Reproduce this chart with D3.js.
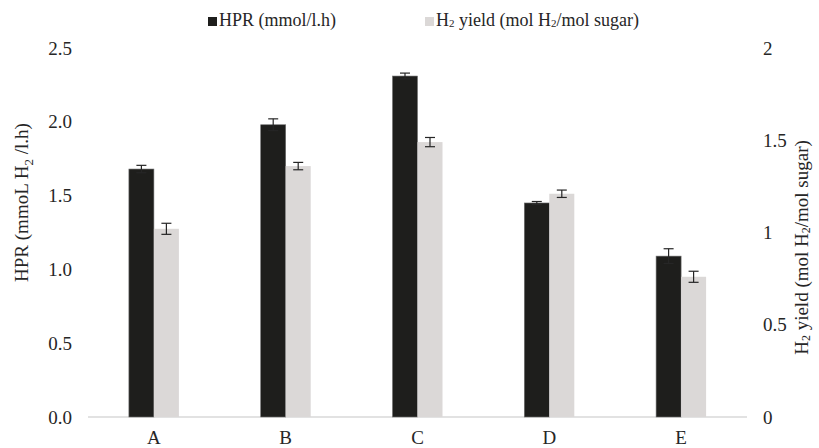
<!DOCTYPE html>
<html>
<head>
<meta charset="utf-8">
<script src="https://cdn.jsdelivr.net/npm/d3@7"></script>
<style>
  body { margin: 0; background: #fff; }
  svg text { font-family: "Liberation Serif", "Times New Roman", Times, "DejaVu Serif", serif !important; fill: #262626; }
</style>
</head>
<body>
<div id="chart"></div>
<script>
const categories = ["A", "B", "C", "D", "E"];
const hpr = [1.68, 1.98, 2.31, 1.45, 1.09];
const hprErr = [0.025, 0.04, 0.02, 0.01, 0.05];
const yieldH2 = [1.02, 1.36, 1.49, 1.21, 0.76];
const yieldErr = [0.03, 0.02, 0.025, 0.02, 0.03];
const leftTicks = [0, 0.5, 1.0, 1.5, 2.0, 2.5];
const rightTicks = [0, 0.5, 1, 1.5, 2];

const width = 819;
const height = 448;
const margin = { top: 48, right: 72, bottom: 31, left: 88 };

const svg = d3.select("#chart")
    .append("svg")
    .attr("width", width)
    .attr("height", height);

const x = d3.scaleBand()
    .domain(categories)
    .range([margin.left, width - margin.right]);

const inner = d3.scaleBand()
    .domain(["hpr", "yield"])
    .range([x.bandwidth() / 2 - 25, x.bandwidth() / 2 + 25]);

const yL = d3.scaleLinear().domain([0, 2.5]).range([height - margin.bottom, margin.top]);
const yR = d3.scaleLinear().domain([0, 2]).range([height - margin.bottom, margin.top]);

// axes
const leftAxis = svg.append("g")
    .attr("transform", `translate(${margin.left},0)`)
    .call(d3.axisLeft(yL).tickValues(leftTicks).tickFormat(d3.format(".1f")).tickSize(0).tickPadding(16));
const rightAxis = svg.append("g")
    .attr("transform", `translate(${width - margin.right},0)`)
    .call(d3.axisRight(yR).tickValues(rightTicks).tickFormat(d => d3.format("~g")(d)).tickSize(0).tickPadding(16));
const bottomAxis = svg.append("g")
    .attr("transform", `translate(0,${height - margin.bottom})`)
    .call(d3.axisBottom(x).tickSize(0).tickPadding(14));

[leftAxis, rightAxis, bottomAxis].forEach(g => {
    g.attr("font-family", null);
    g.select(".domain").remove();
    g.selectAll("text").style("font-size", "19px").attr("fill", "#262626");
});

svg.append("line")
    .attr("x1", margin.left).attr("x2", width - margin.right)
    .attr("y1", yL(0)).attr("y2", yL(0))
    .attr("stroke", "#d9d9d9").attr("stroke-width", 1.5);

// bars
const groups = svg.selectAll("g.cat")
    .data(categories)
    .enter()
    .append("g")
    .attr("class", "cat")
    .attr("transform", d => `translate(${x(d)},0)`);

groups.append("rect")
    .attr("x", inner("hpr"))
    .attr("width", inner.bandwidth())
    .attr("y", (d, i) => yL(hpr[i]))
    .attr("height", (d, i) => yL(0) - yL(hpr[i]))
    .attr("fill", "#1e1e1c")
    .attr("stroke", "#6e6e6e")
    .attr("stroke-width", 0.6);

groups.append("rect")
    .attr("x", inner("yield"))
    .attr("width", inner.bandwidth())
    .attr("y", (d, i) => yR(yieldH2[i]))
    .attr("height", (d, i) => yR(0) - yR(yieldH2[i]))
    .attr("fill", "#dbd8d7");

// error bars
const drawErr = (cx, yTop, yBot) => {
    const g = svg.append("g").attr("stroke", "#262626").attr("stroke-width", 1.2);
    g.append("line").attr("x1", cx).attr("x2", cx).attr("y1", yTop).attr("y2", yBot);
    g.append("line").attr("x1", cx - 5).attr("x2", cx + 5).attr("y1", yTop).attr("y2", yTop);
    g.append("line").attr("x1", cx - 5).attr("x2", cx + 5).attr("y1", yBot).attr("y2", yBot);
};
categories.forEach((c, i) => {
    const cx1 = x(c) + inner("hpr") + inner.bandwidth() / 2;
    drawErr(cx1, yL(hpr[i] + hprErr[i]), yL(hpr[i] - hprErr[i]));
    const cx2 = x(c) + inner("yield") + inner.bandwidth() / 2;
    drawErr(cx2, yR(yieldH2[i] + yieldErr[i]), yR(yieldH2[i] - yieldErr[i]));
});

// axis titles
const lt = svg.append("text")
    .attr("transform", `translate(28,${(margin.top + height - margin.bottom) / 2 - 30}) rotate(-90)`)
    .attr("text-anchor", "middle")
    .style("font-size", "19px");
lt.append("tspan").text("HPR (mmoL H");
lt.append("tspan").attr("dy", 5).style("font-size", "13px").text("2");
lt.append("tspan").attr("dy", -5).text(" /l.h)");

const rt = svg.append("text")
    .attr("transform", `translate(808,${(margin.top + height - margin.bottom) / 2 + 15}) rotate(-90)`)
    .attr("text-anchor", "middle")
    .style("font-size", "19px");
rt.append("tspan").text("H");
rt.append("tspan").attr("dy", 2).style("font-size", "12px").text("2");
rt.append("tspan").attr("dy", -2).text(" yield (mol H");
rt.append("tspan").attr("dy", 2).style("font-size", "12px").text("2");
rt.append("tspan").attr("dy", -2).text("/mol sugar)");

// legend
const legend = [
    { label: ["HPR (mmol/l.h)"], color: "#1e1e1c", x: 208 },
    { label: ["H", "2", " yield (mol H", "2", "/mol sugar)"], color: "#dbd8d7", x: 425 }
];
legend.forEach(l => {
    svg.append("rect").attr("x", l.x).attr("y", 17).attr("width", 9).attr("height", 9).attr("fill", l.color);
    const t = svg.append("text").attr("x", l.x + 11).attr("y", 27).style("font-size", "18px");
    l.label.forEach(s => {
        if (s === "2") {
            t.append("tspan").style("font-size", "11px").attr("dy", 1).text(s);
        } else {
            t.append("tspan").attr("dy", t.selectAll("tspan").size() ? -1 : 0).text(s);
        }
    });
});
</script>
</body>
</html>
